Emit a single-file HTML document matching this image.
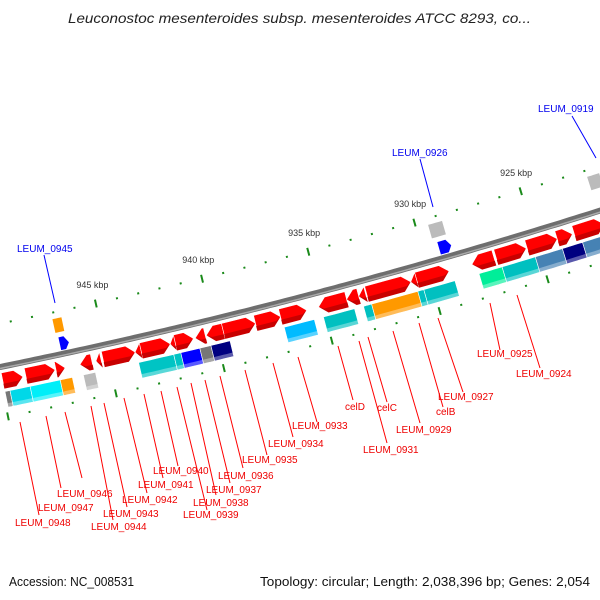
<!DOCTYPE html>
<html><head><meta charset="utf-8">
<style>
html,body{margin:0;padding:0;background:#fff;}
svg{display:block;font-family:"Liberation Sans","DejaVu Sans",sans-serif;}
</style></head>
<body>
<svg id="map" width="600" height="600" viewBox="0 0 600 600" xmlns="http://www.w3.org/2000/svg">
<text x="68" y="23" textLength="463" lengthAdjust="spacingAndGlyphs" font-size="14" font-style="italic" fill="#222">Leuconostoc mesenteroides subsp. mesenteroides ATCC 8293, co...</text>
<text x="9" y="586" textLength="125" lengthAdjust="spacingAndGlyphs" font-size="12.5" fill="#111">Accession: NC_008531</text>
<text x="260" y="586" textLength="330" lengthAdjust="spacingAndGlyphs" font-size="12.5" fill="#111">Topology: circular; Length: 2,038,396 bp; Genes: 2,054</text>
<g id="ticks"></g>
<g id="backbone"></g>
<g id="feats"></g>
<g id="labels"></g>
</svg>
<script>
// kbp ticks
const kbpMajor = [950, 945, 940, 935, 930, 925, 920];
const kbpLabeled = [945, 940, 935, 930, 925];
const kbpMinorStart = 951, kbpMinorEnd = 920;
// forward genes (red arrows): start, end, direction
const redStarts = [0,23,53,77,93,100,132,138,167,172,192,203,220,252,277,315,343,355,363,407,413,468,492,523,553,570];
const redEnds   = [20,52,62,89,98,132,138,167,172,190,202,220,252,277,303,343,355,362,407,413,445,490,522,553,568,600];
const redDirs   = ['r','r','r','l','l','r','l','r','l','r','l','l','r','r','r','l','l','l','r','l','r','l','r','r','r','r'];
// COG-coloured boxes
const boxStarts = [0,5,25,55,78,133,168,175,194,205,278,317,357,365,411,417,472,495,528,555,575];
const boxEnds   = [5,25,55,67,90,168,175,194,205,224,308,348,365,411,417,448,495,528,555,575,600];
const boxColors = ['#777','#00d8e8','#00eef8','#ff9900','#bbb','#00c4c4','#00c4c4','#0000ff','#777','#000080','#00bbff','#00c0c0','#00c0c0','#ff9900','#00c0c0','#00c0c0','#00ee99','#00c0c0','#4682b4','#000080','#4682b4'];
// above-line items
const upBoxStarts = [60,438,598];
const upBoxEnds   = [69,452,610];
const upBoxColors = ['#ff9900','#bbb','#bbb'];
const blueStarts = [62,442];
const blueEnds   = [71,454];
// red label lines (top x,y -> bottom x,y) and label text
const lineX1=[20,46,65,91,104,124,144,161,177,191,205,220,245,273,298,338,359,368,393,419,438,490,517];
const lineY1=[422,416,412,406,403,398,394,391,387,383,380,376,370,363,357,346,341,337,331,323,318,303,295];
const lineX2=[39,61,82,113,127,147,163,178,207,216,230,243,267,293,317,353,387,387,420,443,463,500,540];
const lineY2=[515,488,478,520,507,493,478,466,510,495,483,468,455,437,422,400,443,402,423,407,392,350,368];
const labelText=['LEUM_0948','LEUM_0947','LEUM_0946','LEUM_0944','LEUM_0943','LEUM_0942','LEUM_0941','LEUM_0940','LEUM_0939','LEUM_0938','LEUM_0937','LEUM_0936','LEUM_0935','LEUM_0934','LEUM_0933','celD','celC','LEUM_0929','LEUM_0931','celB','LEUM_0927','LEUM_0925','LEUM_0924'];
const labelX=[15,38,57,91,103,122,138,153,183,193,206,218,242,268,292,345,377,396,363,436,438,477,516];
const labelY=[526,511,497,530,517,503,488,474,518,506,493,479,463,447,429,410,411,433,453,415,400,357,377];
const blueLabels=['LEUM_0945','LEUM_0926','LEUM_0919'];
const blueLX=[17,392,538], blueLY=[252,156,112];
const blueL1x=[44,420,572], blueL1y=[255,159,116], blueL2x=[55,433,596], blueL2y=[303,207,158];

const NS='http://www.w3.org/2000/svg';
function Y(s){return 367-0.204*s-0.0000944*s*s;}
function P(s,d){const dy=-0.204-2*0.0000944*s;const L=Math.hypot(1,dy);return [s+d*(-dy)/L, Y(s)+d/L];}
function kx(k){return 105+(945-k)*21.4;}
function mk(tag,attrs,parent){const e=document.createElementNS(NS,tag);for(const a in attrs)e.setAttribute(a,attrs[a]);parent.appendChild(e);return e;}
function poly(pts){return pts.map(p=>p[0].toFixed(1)+','+p[1].toFixed(1)).join(' ');}
function band(s0,s1,d0,d1){const pts=[];const n=6;for(let i=0;i<=n;i++)pts.push(P(s0+(s1-s0)*i/n,d0));for(let i=n;i>=0;i--)pts.push(P(s0+(s1-s0)*i/n,d1));return poly(pts);}

const ticks=document.getElementById('ticks');
for(let k=kbpMinorStart;k>=kbpMinorEnd;k--){
  const s=kx(k);const major=kbpMajor.includes(k);
  const a=P(s,major?-38:-41.5),b=P(s,major?-46:-43.5);
  const t=mk('line',{x1:a[0],y1:a[1],x2:b[0],y2:b[1],stroke:'#1a8a1a','stroke-width':2},ticks);
  
  
  const c=P(s,major?46:49),e=P(s,major?54:51);
  const t2=mk('line',{x1:c[0],y1:c[1],x2:e[0],y2:e[1],stroke:'#1a8a1a','stroke-width':2},ticks);
  
  
  if(kbpLabeled.includes(k)){const p=P(s,-58);
    const tx=mk('text',{x:p[0],y:p[1],'text-anchor':'middle','font-size':9,fill:'#333'},ticks);tx.textContent=k+' kbp';
    
    }
}
const bb=document.getElementById('backbone');
const bpts=[];for(let s=-5;s<=605;s+=5)bpts.push(P(s,0));
mk('polyline',{points:poly(bpts),fill:'none',stroke:'#6e6e6e','stroke-width':6},bb);
const bpts2=[];for(let s=-5;s<=605;s+=5)bpts2.push(P(s,1.5));
mk('polyline',{points:poly(bpts2),fill:'none',stroke:'#aaa','stroke-width':1.5},bb);

const fg=document.getElementById('feats');
for(let i=0;i<redStarts.length;i++){
  const s0=redStarts[i],s1=redEnds[i],dir=redDirs[i];const d0=6,d1=22,dm=14;
  const h=Math.min(8,(s1-s0));let pts;
  if(dir==='r')pts=[P(s0,d0),P(s1-h,d0),P(s1,dm),P(s1-h,d1),P(s0,d1)];
  else pts=[P(s0,dm),P(s0+h,d0),P(s1,d0),P(s1,d1),P(s0+h,d1)];
  const g=mk('polygon',{points:poly(pts),fill:'#ff0000',stroke:'#fff','stroke-width':0.6},fg);
  
  
  const lo=dir==='r'?[P(s0,17),P(s1-h*5/8,17),P(s1,dm),P(s1-h,d1),P(s0,d1)]:[P(s0,dm),P(s0+h*5/8,17),P(s1,17),P(s1,d1),P(s0+h,d1)];
  mk('polygon',{points:poly(lo),fill:'#c80000'},fg);
}
for(let i=0;i<boxStarts.length;i++){
  const r=mk('polygon',{points:band(boxStarts[i],boxEnds[i],25,41),fill:boxColors[i],stroke:'#fff','stroke-width':0.6},fg);
  
  
  mk('polygon',{points:band(boxStarts[i],boxEnds[i],37,41),fill:'#ffffff','fill-opacity':0.35},fg);
}
for(let i=0;i<upBoxStarts.length;i++){
  const r=mk('polygon',{points:band(upBoxStarts[i],upBoxEnds[i],-36,-22),fill:upBoxColors[i]},fg);
  
  
}
for(let i=0;i<blueStarts.length;i++){
  const s0=blueStarts[i],s1=blueEnds[i];
  const pts=[P(s0,-17),P(s1-4,-17),P(s1,-10),P(s1-4,-4),P(s0,-4)];
  const r=mk('polygon',{points:poly(pts),fill:'#0000ff'},fg);
  
  
}
const lg=document.getElementById('labels');
for(let i=0;i<labelText.length;i++){
  const l=mk('line',{x1:lineX1[i],y1:lineY1[i],x2:lineX2[i],y2:lineY2[i],stroke:'#ff0000','stroke-width':1},lg);
  
  
  const t=mk('text',{x:labelX[i],y:labelY[i],'font-size':10,fill:'#ee0000'},lg);t.textContent=labelText[i];
  
  
}
for(let i=0;i<blueLabels.length;i++){
  const l=mk('line',{x1:blueL1x[i],y1:blueL1y[i],x2:blueL2x[i],y2:blueL2y[i],stroke:'#0000ff','stroke-width':1},lg);
  
  
  const t=mk('text',{x:blueLX[i],y:blueLY[i],'font-size':10,fill:'#0000ee'},lg);t.textContent=blueLabels[i];
  
  
}
</script>
</body></html>
